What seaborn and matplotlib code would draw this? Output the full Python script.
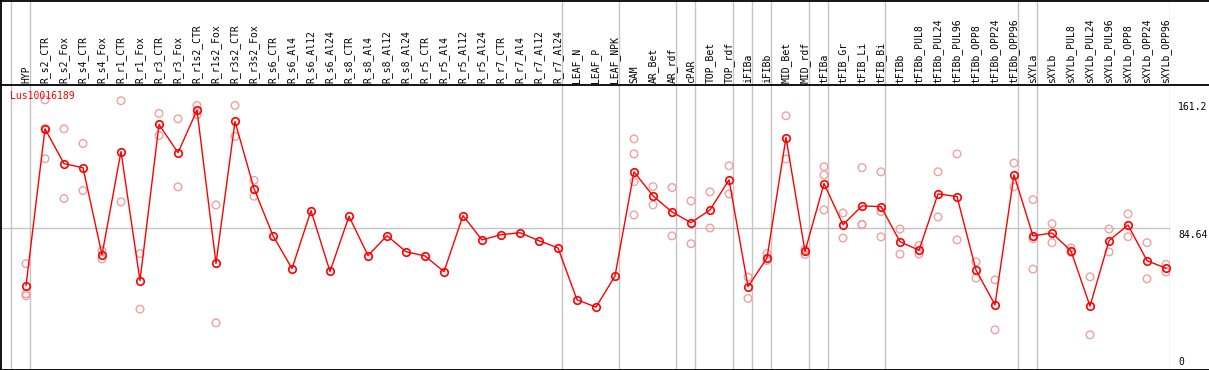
import numpy as np
import pandas as pd
import matplotlib
matplotlib.use("Agg")
import matplotlib.pyplot as plt
import matplotlib.transforms as mtransforms
from matplotlib.lines import Line2D
import seaborn as sns

# ---------------- data ----------------
categories = [
    "HYP", "R_s2_CTR", "R_s2_Fox", "R_s4_CTR", "R_s4_Fox", "R_r1_CTR", "R_r1_Fox",
    "R_r3_CTR", "R_r3_Fox", "R_r1s2_CTR", "R_r1s2_Fox", "R_r3s2_CTR", "R_r3s2_Fox",
    "R_s6_CTR", "R_s6_Al4", "R_s6_Al12", "R_s6_Al24", "R_s8_CTR", "R_s8_Al4",
    "R_s8_Al12", "R_s8_Al24", "R_r5_CTR", "R_r5_Al4", "R_r5_Al12", "R_r5_Al24",
    "R_r7_CTR", "R_r7_Al4", "R_r7_Al12", "R_r7_Al24", "LEAF_N", "LEAF_P", "LEAF_NPK",
    "SAM", "AR_Bet", "AR_rdf", "cPAR", "TOP_Bet", "TOP_rdf", "iFIBa", "iFIBb",
    "MID_Bet", "MID_rdf", "tFIBa", "tFIB_Gr", "tFIB_Li", "tFIB_Bi", "tFIBb",
    "tFIBb_PUL8", "tFIBb_PUL24", "tFIBb_PUL96", "tFIBb_OPP8", "tFIBb_OPP24",
    "tFIBb_OPP96", "sXYLa", "sXYLb", "sXYLb_PUL8", "sXYLb_PUL24", "sXYLb_PUL96",
    "sXYLb_OPP8", "sXYLb_OPP24", "sXYLb_OPP96",
]

means = [
    50.1, 143.9, 123.1, 120.6, 68.6, 130.3, 53.1, 146.5, 129.6, 155.1, 63.4, 148.3, 108.2,
    80.0, 60.3, 95.0, 58.6, 91.6, 68.1, 80.0, 70.4, 67.9, 58.5, 92.0, 77.5,
    80.6, 81.8, 77.0, 72.7, 41.7, 37.3, 55.9,
    118.2, 103.8, 94.2, 87.8, 95.4, 113.4, 49.5, 66.7, 138.7, 70.6,
    111.2, 86.6, 97.8, 97.4, 76.4, 71.3, 105.0, 103.4, 59.5, 38.6, 116.4,
    79.9, 81.6, 70.9, 37.9, 77.0, 86.4, 65.1, 60.5,
]

replicates = [
    [63.3, 45.3, 44.1], [161.2, 144.0, 126.0], [143.9, 102.2], [135.1, 107.0],
    [71.0, 66.1], [160.7, 100.2], [69.3, 36.1], [153.1, 139.9], [149.9, 109.2],
    [157.9, 152.3], [98.4, 27.9], [157.9, 139.3], [113.1, 103.6],
    [], [], [], [], [], [], [], [], [], [], [], [], [], [], [], [], [], [], [],
    [137.9, 128.9, 112.3, 92.4], [109.4, 98.4], [108.8, 79.9], [100.8, 75.2],
    [106.2, 84.6], [121.8, 105.0], [55.3, 42.5], [69.4, 65.2], [151.7, 125.9],
    [71.8, 68.8], [121.3, 116.4, 95.4], [93.6, 78.6], [120.7, 86.8, 86.6],
    [118.2, 94.4, 79.3], [84.0, 69.0], [74.2, 69.0], [118.2, 91.2], [128.9, 77.5],
    [64.3, 54.7], [53.6, 23.7], [123.4, 109.2], [101.6, 78.2, 60.0], [87.2, 75.8],
    [72.7, 70.0], [55.4, 20.7], [84.0, 70.3], [93.0, 79.4], [75.8, 54.2], [62.9, 58.3],
]

group_starts = ["HYP", "R_s2_CTR", "LEAF_N", "SAM", "cPAR", "TOP_Bet", "iFIBa", "iFIBb",
                "MID_Bet", "tFIBa", "tFIB_Gr", "tFIBb", "sXYLa", "sXYLb"]
y_ticks = [161.2, 84.64, 0]
y_tick_labels = ["161.2", "84.64", "0"]
gene_id = "Lus10016189"

# ---------------- layout ----------------
W, H = 1209, 370
sns.set_theme(style="white")
plt.rcParams["font.family"] = ["DejaVu Sans Mono", "DejaVu Sans"]

fig = plt.figure(figsize=(W / 100, H / 100), dpi=100)
fig.patch.set_facecolor("white")

plot_right_px = 1170
header_bottom_px = 84.5
plot_bottom_px = 369.5

pos = np.arange(len(categories))
xlim = (-26 / 19, (plot_right_px - 26) / 19)
ylim = (0, 170.4)

ax = fig.add_axes([0, 1 - plot_bottom_px / H, plot_right_px / W,
                   (plot_bottom_px - header_bottom_px) / H])
axh = fig.add_axes([0, 1 - header_bottom_px / H, plot_right_px / W, header_bottom_px / H])

for a in (ax, axh):
    a.set_xlim(*xlim)
    a.set_facecolor("none")
    for s in a.spines.values():
        s.set_visible(False)
    a.set_xticks([])
    a.set_yticks([])
    a.set_xlabel("")
    a.set_ylabel("")
ax.set_ylim(*ylim)
axh.set_ylim(0, 1)

grid_c = "#c4c4c4"
boundaries = [categories.index(g) - 15 / 19 for g in group_starts] + [len(categories) - 15 / 19]
for b in boundaries:
    ax.axvline(b, color=grid_c, lw=1, zorder=1)
    axh.axvline(b, color=grid_c, lw=1, zorder=1)
ax.axhline(y_ticks[1], color=grid_c, lw=1, zorder=1)

# replicates
rep_rows = [(i, v) for i, reps in enumerate(replicates) for v in reps]
rep_df = pd.DataFrame(rep_rows, columns=["pos", "value"])
sns.scatterplot(data=rep_df, x="pos", y="value", ax=ax, marker="o", s=30,
                facecolors="none", edgecolors="#f0a0a0", linewidths=1.0, zorder=2,
                legend=False)

# mean line
mean_df = pd.DataFrame({"pos": pos, "value": means})
sns.lineplot(data=mean_df, x="pos", y="value", ax=ax, color="#ff0000", lw=1,
             marker="o", markersize=5.4, markerfacecolor="none",
             markeredgecolor="#ff0000", markeredgewidth=1.2, zorder=3, legend=False)
ax.set_xlim(*xlim)
ax.set_ylim(*ylim)
ax.set_xlabel("")
ax.set_ylabel("")

# header labels
trans_h = mtransforms.blended_transform_factory(axh.transData, axh.transAxes)
for i, c in enumerate(categories):
    axh.text(i, 1.5 / header_bottom_px, c, rotation=90, ha="center", va="bottom",
             fontsize=7, color="black", transform=trans_h)

# gene id
ax.text(10 / plot_right_px, 1 - 11.5 / (plot_bottom_px - header_bottom_px), gene_id,
        transform=ax.transAxes, ha="left", va="center", fontsize=7, color="#ff0000",
        zorder=5)

# right tick labels
trans_r = mtransforms.blended_transform_factory(ax.transAxes, ax.transData)
for v, lab in zip(y_ticks, y_tick_labels):
    va = "bottom" if v == 0 else "top"
    yy = v + 1.5 if v == 0 else v - 1.0
    ax.text(1178 / plot_right_px, yy, lab, transform=trans_r, ha="left", va=va,
            fontsize=7, color="black", clip_on=False)

# frame lines
def fl(x0, y0, x1, y1, c="black"):
    fig.add_artist(Line2D([x0 / W, x1 / W], [1 - y0 / H, 1 - y1 / H],
                          transform=fig.transFigure, color=c, lw=1.3, zorder=10))

fl(0, 0.6, W, 0.6)
fl(0.6, 0, 0.6, plot_bottom_px)
fl(0, header_bottom_px, W, header_bottom_px)
fl(0, plot_bottom_px, W, plot_bottom_px)

fig.savefig("out.png", dpi=100, facecolor="white")
